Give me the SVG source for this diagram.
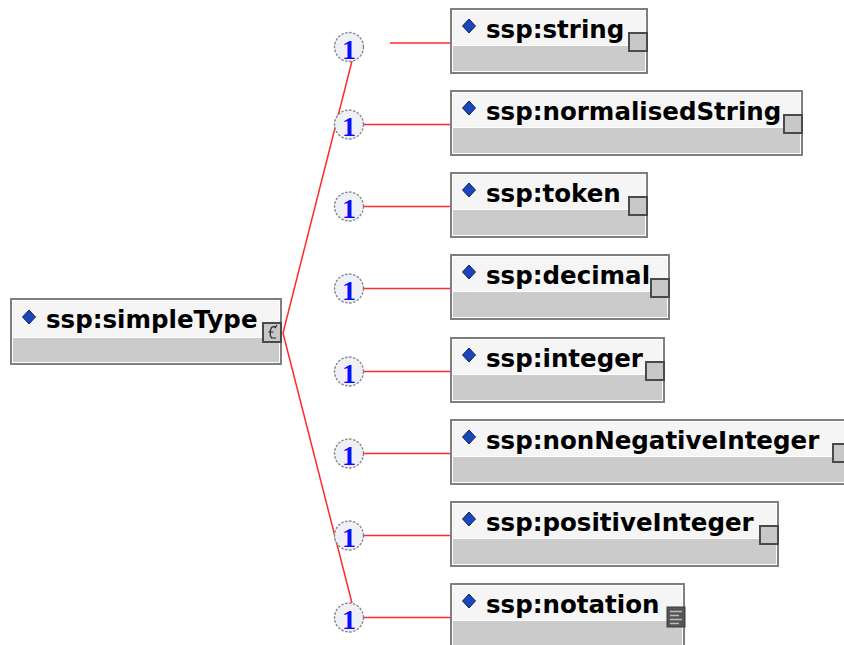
<svg xmlns="http://www.w3.org/2000/svg" width="844" height="645" viewBox="0 0 844 645">
<defs>
<style>
.frame{fill:#ffffff;stroke:#7f7f7f;stroke-width:2}
.hdr{fill:#f5f5f5}
.body{fill:#cbcbcb}
.lbl{font-family:"DejaVu Sans",Verdana,sans-serif;font-weight:bold;font-size:24.5px;fill:#000000}
.dia{fill:#1a46b8;stroke:#0b2466;stroke-width:1}
.icon{fill:#c8c8c8;stroke:#4a4a4a;stroke-width:2}
.wire{stroke:#ff2a2a;stroke-width:1.5;fill:none}
.occ{fill:#eef0f6;stroke:#808080;stroke-width:1.3;stroke-dasharray:2.5 1.5}
.occ-t{font-family:"Liberation Serif",serif;font-weight:bold;font-size:28px;fill:#0a0aff;text-anchor:middle}
</style>
</defs>
<rect width="844" height="645" fill="#ffffff"/>

<g id="connectors">
<path class="wire" d="M283,333 L352,61"/>
<path class="wire" d="M283,333 L352,603"/>
<path class="wire" d="M390,43 H450"/>
<path class="wire" d="M364,124.5 H450"/>
<path class="wire" d="M364,206.5 H450"/>
<path class="wire" d="M364,288.5 H450"/>
<path class="wire" d="M364,371.5 H450"/>
<path class="wire" d="M364,453.5 H450"/>
<path class="wire" d="M364,535.5 H450"/>
<path class="wire" d="M364,617.5 H450"/>
</g>

<g id="occurrences">
<g id="occ-1"><circle class="occ" cx="349" cy="47" r="14.5"/><text class="occ-t" x="349" y="58.5">1</text></g>
<g id="occ-2"><circle class="occ" cx="349" cy="124.5" r="14.5"/><text class="occ-t" x="349" y="136">1</text></g>
<g id="occ-3"><circle class="occ" cx="349" cy="206.5" r="14.5"/><text class="occ-t" x="349" y="218">1</text></g>
<g id="occ-4"><circle class="occ" cx="349" cy="288.5" r="14.5"/><text class="occ-t" x="349" y="300">1</text></g>
<g id="occ-5"><circle class="occ" cx="349" cy="371.5" r="14.5"/><text class="occ-t" x="349" y="383">1</text></g>
<g id="occ-6"><circle class="occ" cx="349" cy="453.5" r="14.5"/><text class="occ-t" x="349" y="465">1</text></g>
<g id="occ-7"><circle class="occ" cx="349" cy="535.5" r="14.5"/><text class="occ-t" x="349" y="547">1</text></g>
<g id="occ-8"><circle class="occ" cx="349" cy="617.5" r="14.5"/><text class="occ-t" x="349" y="629">1</text></g>
</g>

<g id="n-simpleType" transform="translate(10,298)">
<rect class="frame" x="1" y="1" width="270" height="65"/>
<rect class="hdr" x="3" y="3" width="266" height="36"/>
<rect class="body" x="3" y="40" width="266" height="24"/>
<polygon class="dia" points="19,12 25.5,19 19,26 12.5,19"/>
<text class="lbl" x="36" y="30">ssp:simpleType</text>
<rect class="icon" x="253" y="25" width="18" height="19"/>
<path d="M266,30 l-2,-1.5 l-2.5,1 l-1.2,3 v5 l1.2,2.5 h4.5 M258.5,34 h5 M265.5,29 l1.5,-2" fill="none" stroke="#222" stroke-width="1.2"/>
</g>

<g id="n-string" transform="translate(450,8)">
<rect class="frame" x="1" y="1" width="196" height="64"/>
<rect class="hdr" x="3" y="3" width="192" height="34"/>
<rect class="body" x="3" y="38" width="192" height="25"/>
<polygon class="dia" points="19,11 25.5,18 19,25 12.5,18"/>
<text class="lbl" x="36" y="30">ssp:string</text>
<rect class="icon" x="179" y="25" width="18" height="18"/>
</g>

<g id="n-normalisedString" transform="translate(450,90)">
<rect class="frame" x="1" y="1" width="351" height="64"/>
<rect class="hdr" x="3" y="3" width="347" height="34"/>
<rect class="body" x="3" y="38" width="347" height="25"/>
<polygon class="dia" points="19,11 25.5,18 19,25 12.5,18"/>
<text class="lbl" x="36" y="30">ssp:normalisedString</text>
<rect class="icon" x="334" y="25" width="18" height="18"/>
</g>

<g id="n-token" transform="translate(450,172)">
<rect class="frame" x="1" y="1" width="196" height="64"/>
<rect class="hdr" x="3" y="3" width="192" height="34"/>
<rect class="body" x="3" y="38" width="192" height="25"/>
<polygon class="dia" points="19,11 25.5,18 19,25 12.5,18"/>
<text class="lbl" x="36" y="30">ssp:token</text>
<rect class="icon" x="179" y="25" width="18" height="18"/>
</g>

<g id="n-decimal" transform="translate(450,254)">
<rect class="frame" x="1" y="1" width="218" height="64"/>
<rect class="hdr" x="3" y="3" width="214" height="34"/>
<rect class="body" x="3" y="38" width="214" height="25"/>
<polygon class="dia" points="19,11 25.5,18 19,25 12.5,18"/>
<text class="lbl" x="36" y="30">ssp:decimal</text>
<rect class="icon" x="201" y="25" width="18" height="18"/>
</g>

<g id="n-integer" transform="translate(450,337)">
<rect class="frame" x="1" y="1" width="213" height="64"/>
<rect class="hdr" x="3" y="3" width="209" height="34"/>
<rect class="body" x="3" y="38" width="209" height="25"/>
<polygon class="dia" points="19,11 25.5,18 19,25 12.5,18"/>
<text class="lbl" x="36" y="30">ssp:integer</text>
<rect class="icon" x="196" y="25" width="18" height="18"/>
</g>

<g id="n-nonNegativeInteger" transform="translate(450,419)">
<rect class="frame" x="1" y="1" width="400" height="64"/>
<rect class="hdr" x="3" y="3" width="396" height="34"/>
<rect class="body" x="3" y="38" width="396" height="25"/>
<polygon class="dia" points="19,11 25.5,18 19,25 12.5,18"/>
<text class="lbl" x="36" y="30">ssp:nonNegativeInteger</text>
<rect class="icon" x="383" y="25" width="18" height="18"/>
</g>

<g id="n-positiveInteger" transform="translate(450,501)">
<rect class="frame" x="1" y="1" width="327" height="64"/>
<rect class="hdr" x="3" y="3" width="323" height="34"/>
<rect class="body" x="3" y="38" width="323" height="25"/>
<polygon class="dia" points="19,11 25.5,18 19,25 12.5,18"/>
<text class="lbl" x="36" y="30">ssp:positiveInteger</text>
<rect class="icon" x="310" y="25" width="18" height="18"/>
</g>

<g id="n-notation" transform="translate(450,583)">
<rect class="frame" x="1" y="1" width="233" height="64"/>
<rect class="hdr" x="3" y="3" width="229" height="34"/>
<rect class="body" x="3" y="38" width="229" height="25"/>
<polygon class="dia" points="19,11 25.5,18 19,25 12.5,18"/>
<text class="lbl" x="36" y="30">ssp:notation</text>
<rect x="217" y="24" width="18" height="20" fill="#555555" stroke="#3a3a3a" stroke-width="1"/>
<path d="M220,28.5 h12 M220,32.5 h9 M220,36.5 h12 M220,40.5 h9" stroke="#bdbdbd" stroke-width="1.6"/>
</g>
</svg>
